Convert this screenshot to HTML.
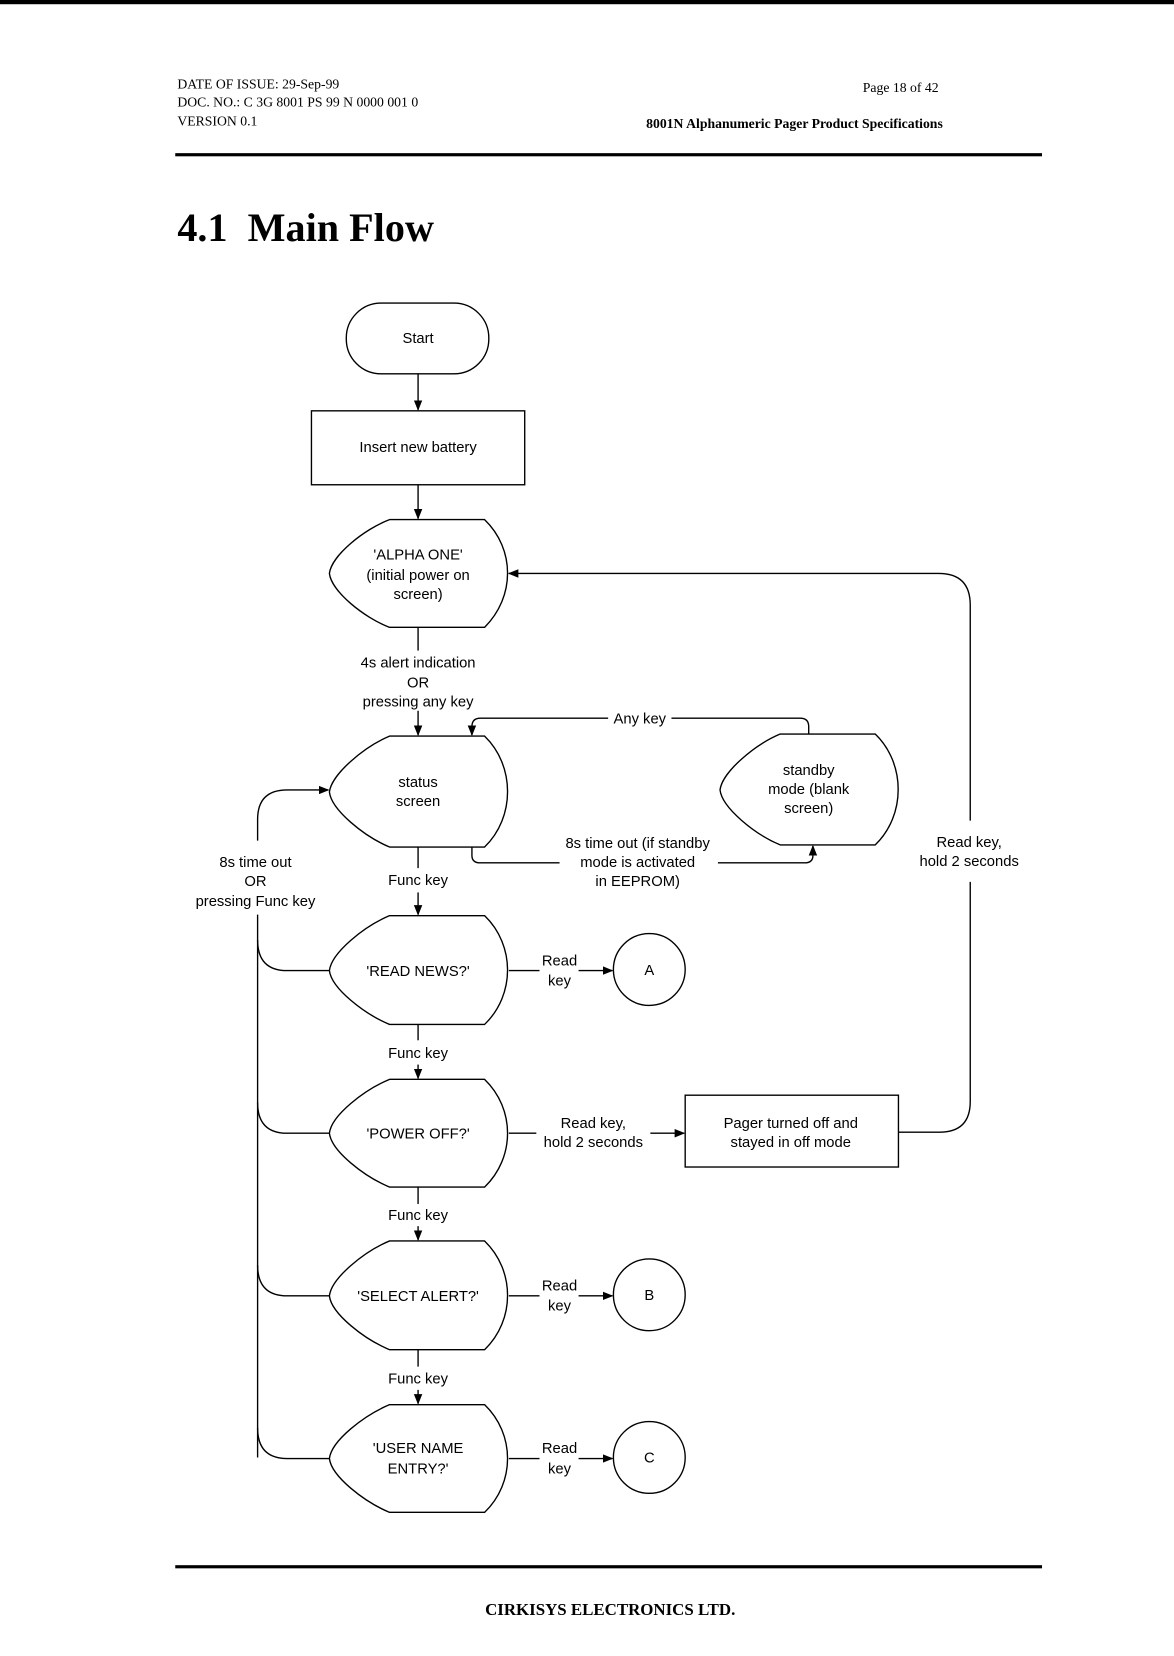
<!DOCTYPE html>
<html><head><meta charset="utf-8"><style>
html,body{margin:0;padding:0;background:#fff;}
svg{display:block;}
.h{font-family:"Liberation Serif",serif;font-size:13px;fill:#000;}
.f{font-family:"Liberation Sans",sans-serif;font-size:14px;fill:#000;text-anchor:middle;}
</style></head><body>
<svg width="1174" height="1656" viewBox="0 0 1112 1568" preserveAspectRatio="none" xmlns="http://www.w3.org/2000/svg">
<defs><marker id="a" markerWidth="10" markerHeight="10" refX="9" refY="5" orient="auto" markerUnits="userSpaceOnUse"><path d="M0,1 L10,5 L0,9 Z" fill="#000"/></marker></defs>
<rect x="0" y="0" width="1112" height="4" fill="#000"/>
<text class="h" x="168" y="84">DATE OF ISSUE: 29-Sep-99</text>
<text class="h" x="168" y="101">DOC. NO.: C 3G 8001 PS 99 N 0000 001 0</text>
<text class="h" x="168" y="119">VERSION 0.1</text>
<text class="h" x="889" y="87" text-anchor="end">Page 18 of 42</text>
<text class="h" x="893" y="121" text-anchor="end" font-weight="bold">8001N Alphanumeric Pager Product Specifications</text>
<rect x="166" y="145" width="821" height="3" fill="#000"/>
<text x="168" y="228" font-family="Liberation Serif,serif" font-weight="bold" font-size="38" textLength="243">4.1&#160; Main Flow</text>

<g fill="none" stroke="#000" stroke-width="1.3">
<rect x="328" y="287" width="135" height="67" rx="33"/>
<rect x="295" y="389" width="202" height="70"/>
<rect x="649" y="1037" width="202" height="68"/>
<circle cx="615" cy="918" r="34"/>
<circle cx="615" cy="1226" r="34"/>
<circle cx="615" cy="1380" r="34"/>
<path d="M369,492 L459,492 C488,520 488,565 459,594 L369,594 C345,585 314,560 312,543 C314,526 345,501 369,492 Z"/>
<path d="M369,697 L459,697 C488,725 488,774 459,802 L369,802 C345,792 314,767 312,750 C314,733 345,707 369,697 Z"/>
<path d="M739,695 L829,695 C858,723 858,772 829,800 L739,800 C715,790 684,765 682,748 C684,731 715,705 739,695 Z"/>
<path d="M369,867 L459,867 C488,895 488,942 459,970 L369,970 C345,960 314,936 312,919 C314,902 345,877 369,867 Z"/>
<path d="M369,1022 L459,1022 C488,1050 488,1096 459,1124 L369,1124 C345,1114 314,1090 312,1073 C314,1056 345,1032 369,1022 Z"/>
<path d="M369,1175 L459,1175 C488,1203 488,1250 459,1278 L369,1278 C345,1268 314,1244 312,1227 C314,1210 345,1185 369,1175 Z"/>
<path d="M369,1330 L459,1330 C488,1358 488,1404 459,1432 L369,1432 C345,1422 314,1398 312,1381 C314,1364 345,1340 369,1330 Z"/>
<path d="M396,354 V388" marker-end="url(#a)"/>
<path d="M396,459 V491" marker-end="url(#a)"/>
<path d="M396,594 V616"/><path d="M396,673 V696" marker-end="url(#a)"/>
<path d="M396,802 V822"/><path d="M396,845 V866" marker-end="url(#a)"/>
<path d="M396,970 V985"/><path d="M396,1008 V1021" marker-end="url(#a)"/>
<path d="M396,1124 V1140"/><path d="M396,1161 V1174" marker-end="url(#a)"/>
<path d="M396,1278 V1294"/><path d="M396,1316 V1329" marker-end="url(#a)"/>
<path d="M766,695 V688 Q766,680 758,680 H636"/>
<path d="M576,680 H455 Q447,680 447,688 V696" marker-end="url(#a)"/>
<path d="M447,802 V810 Q447,817 455,817 H530"/>
<path d="M680,817 H762 Q770,817 770,810 V801" marker-end="url(#a)"/>
<path d="M851,1072 H890 Q919,1072 919,1043 V835"/>
<path d="M919,777 V573 Q919,543 889,543 H482" marker-end="url(#a)"/>
<path d="M244,1380 V866"/>
<path d="M244,796 V776 Q244,748 272,748 H311" marker-end="url(#a)"/>
<path d="M244,890 Q244,919 272,919 H312"/>
<path d="M244,1044 Q244,1073 272,1073 H312"/>
<path d="M244,1198 Q244,1227 272,1227 H312"/>
<path d="M244,1352 Q244,1381 272,1381 H312"/>
<path d="M482,919 H511"/><path d="M548,919 H580" marker-end="url(#a)"/>
<path d="M482,1227 H511"/><path d="M548,1227 H580" marker-end="url(#a)"/>
<path d="M482,1381 H511"/><path d="M548,1381 H580" marker-end="url(#a)"/>
<path d="M482,1073 H508"/><path d="M616,1073 H648" marker-end="url(#a)"/>
</g>

<text class="f" x="396" y="325">Start</text>
<text class="f" x="396" y="428">Insert new battery</text>
<text class="f" x="396" y="530">'ALPHA ONE'</text>
<text class="f" x="396" y="549">(initial power on</text>
<text class="f" x="396" y="567">screen)</text>
<text class="f" x="396" y="632">4s alert indication</text>
<text class="f" x="396" y="651">OR</text>
<text class="f" x="396" y="669">pressing any key</text>
<text class="f" x="606" y="685">Any key</text>
<text class="f" x="396" y="745">status</text>
<text class="f" x="396" y="763">screen</text>
<text class="f" x="766" y="734">standby</text>
<text class="f" x="766" y="752">mode (blank</text>
<text class="f" x="766" y="770">screen)</text>
<text class="f" x="604" y="803">8s time out (if standby</text>
<text class="f" x="604" y="821">mode is activated</text>
<text class="f" x="604" y="839">in EEPROM)</text>
<text class="f" x="918" y="802">Read key,</text>
<text class="f" x="918" y="820">hold 2 seconds</text>
<text class="f" x="242" y="821">8s time out</text>
<text class="f" x="242" y="839">OR</text>
<text class="f" x="242" y="858">pressing Func key</text>
<text class="f" x="396" y="838">Func key</text>
<text class="f" x="396" y="924">'READ NEWS?'</text>
<text class="f" x="530" y="914">Read</text>
<text class="f" x="530" y="933">key</text>
<text class="f" x="615" y="923">A</text>
<text class="f" x="396" y="1002">Func key</text>
<text class="f" x="396" y="1078">'POWER OFF?'</text>
<text class="f" x="562" y="1068">Read key,</text>
<text class="f" x="562" y="1086">hold 2 seconds</text>
<text class="f" x="749" y="1068">Pager turned off and</text>
<text class="f" x="749" y="1086">stayed in off mode</text>
<text class="f" x="396" y="1155">Func key</text>
<text class="f" x="396" y="1232">'SELECT ALERT?'</text>
<text class="f" x="530" y="1222">Read</text>
<text class="f" x="530" y="1241">key</text>
<text class="f" x="615" y="1231">B</text>
<text class="f" x="396" y="1310">Func key</text>
<text class="f" x="396" y="1376">'USER NAME</text>
<text class="f" x="396" y="1395">ENTRY?'</text>
<text class="f" x="530" y="1376">Read</text>
<text class="f" x="530" y="1395">key</text>
<text class="f" x="615" y="1385">C</text>

<rect x="166" y="1482" width="821" height="3" fill="#000"/>
<text x="578" y="1529" text-anchor="middle" font-family="Liberation Serif,serif" font-weight="bold" font-size="16">CIRKISYS ELECTRONICS LTD.</text>
</svg>
</body></html>
